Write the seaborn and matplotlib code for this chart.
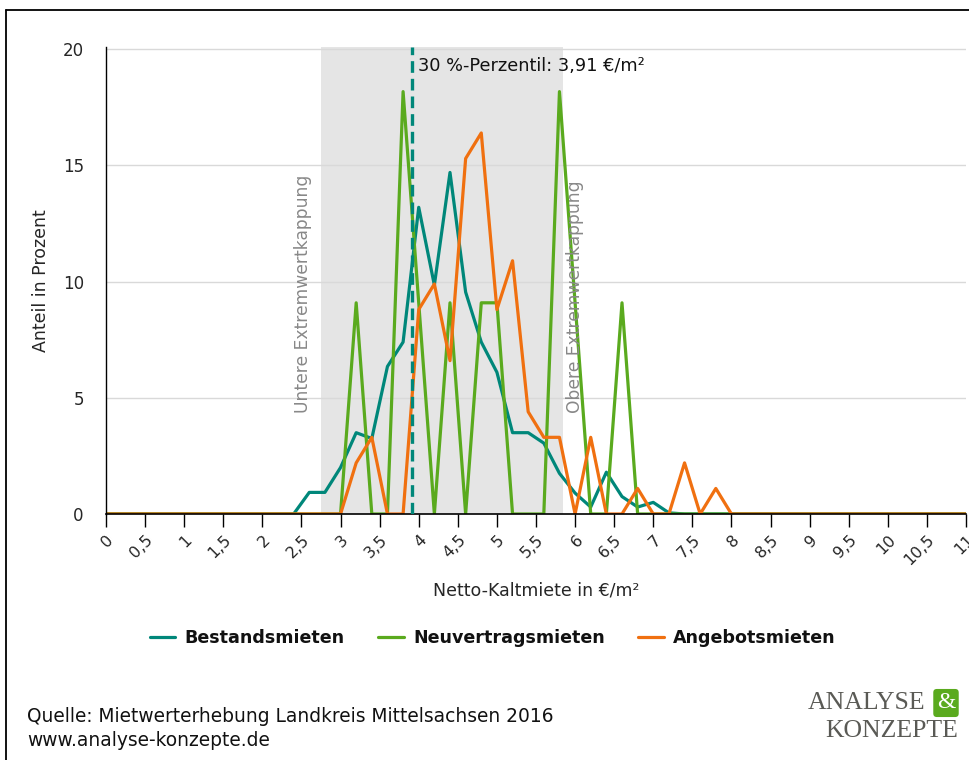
import matplotlib
matplotlib.use("Agg")
import matplotlib.pyplot as plt
import seaborn as sns
import pandas as pd
import numpy as np

# data: share in percent per rent class (0.2 EUR/m2 steps, 0 .. 11)
rent = [round(0.2 * i, 1) for i in range(56)]

bestand = [0, 0, 0, 0, 0, 0, 0, 0, 0, 0, 0, 0,
           0, 0.93, 0.93, 2.0, 3.5, 3.25, 6.35, 7.4, 13.2, 9.85, 14.7, 9.55,
           7.4, 6.1, 3.5, 3.5, 3.05, 1.75, 0.9, 0.3, 1.8, 0.75, 0.3, 0.5,
           0.05, 0, 0, 0, 0, 0, 0, 0, 0, 0, 0, 0, 0, 0, 0, 0, 0, 0, 0, 0]

neuvertrag = [0, 0, 0, 0, 0, 0, 0, 0, 0, 0, 0, 0,
              0, 0, 0, 0, 9.09, 0, 0, 18.18, 9.09, 0, 9.09, 0,
              9.09, 9.09, 0, 0, 0, 18.18, 9.09, 0, 0, 9.09, 0, 0,
              0, 0, 0, 0, 0, 0, 0, 0, 0, 0, 0, 0, 0, 0, 0, 0, 0, 0, 0, 0]

angebot = [0, 0, 0, 0, 0, 0, 0, 0, 0, 0, 0, 0,
           0, 0, 0, 0, 2.2, 3.3, 0, 0, 8.8, 9.9, 6.6, 15.3,
           16.4, 8.8, 10.9, 4.4, 3.3, 3.3, 0, 3.3, 0, 0, 1.1, 0,
           0, 2.2, 0, 1.1, 0, 0, 0, 0, 0, 0, 0, 0, 0, 0, 0, 0, 0, 0, 0, 0]

series_names = ['Bestandsmieten', 'Neuvertragsmieten', 'Angebotsmieten']
colors = ['#00877a', '#5aaa1e', '#f07010']

cap_low = 2.75
cap_high = 5.85
perzentil = 3.91

xticks = [0.5 * i for i in range(23)]
xticklabels = [('%g' % t).replace('.', ',') for t in xticks]

df = pd.DataFrame({
    'Miete': rent * 3,
    'Anteil': bestand + neuvertrag + angebot,
    'Reihe': [series_names[0]] * 56 + [series_names[1]] * 56 + [series_names[2]] * 56,
})

sns.set_style('white')
plt.rcParams['font.family'] = ['DejaVu Sans']

fig = plt.figure(figsize=(9.7, 7.6), dpi=100)
ax = fig.add_axes([106 / 970, 1 - 514 / 760, 860 / 970, 467 / 760])

# extreme value capping band
ax.axvspan(cap_low, cap_high, color='#e5e5e5', zorder=0, lw=0)

g = sns.lineplot(data=df, x='Miete', y='Anteil', hue='Reihe',
                 hue_order=series_names, palette=colors,
                 linewidth=2.3, ax=ax, legend=True)

# 30% percentile line
ax.axvline(perzentil, color=colors[0], linewidth=2.4,
           linestyle=(0, (3.5, 1.8)), zorder=3)
ax.text(perzentil + 0.08, 19.3, '30 %-Perzentil: 3,91 \u20ac/m\u00b2',
        fontsize=12.8, va='center', ha='left', color='#111111')

ax.text(cap_low - 0.12, 4.35, 'Untere Extremwertkappung', rotation=90,
        ha='right', va='bottom', fontsize=12.3, color='#888888')
ax.text(cap_high + 0.03, 4.35, 'Obere Extremwertkappung', rotation=90,
        ha='left', va='bottom', fontsize=12.3, color='#888888')

# axes styling
ax.set_xlim(0, 11)
ax.set_ylim(0, 20.1)
ax.set_xticks(xticks)
ax.set_xticklabels(xticklabels, rotation=45, ha='right',
                   rotation_mode='anchor', fontsize=11.5)
ax.set_yticks([0, 5, 10, 15, 20])
ax.set_yticklabels(['0', '5', '10', '15', '20'], fontsize=12)
ax.tick_params(axis='x', direction='out', length=9, width=1, color='black',
               bottom=True, pad=4)
ax.tick_params(axis='y', length=0, pad=16)
ax.yaxis.grid(True, color='#d9d9d9', linewidth=1)
ax.xaxis.grid(False)
ax.set_axisbelow(True)
for side in ['top', 'right']:
    ax.spines[side].set_visible(False)
ax.spines['left'].set_color('black')
ax.spines['bottom'].set_color('black')
ax.spines['left'].set_linewidth(1)
ax.spines['bottom'].set_linewidth(1.2)

ax.set_xlabel('Netto-Kaltmiete in \u20ac/m\u00b2', fontsize=12.5, labelpad=10)
ax.set_ylabel('Anteil in Prozent', fontsize=12.5, labelpad=9)

# legend below
handles, labels = ax.get_legend_handles_labels()
ax.get_legend().remove()
fig.legend(handles, labels, loc='center', bbox_to_anchor=(0.508, 1 - 638 / 760),
           ncol=3, frameon=False, handlelength=1.45, handletextpad=0.55,
           columnspacing=1.9, labelcolor='#111111',
           prop={'weight': 'bold', 'size': 12.6})

# source
fig.text(27 / 970, 1 - 716 / 760, 'Quelle: Mietwerterhebung Landkreis Mittelsachsen 2016',
         fontsize=13.4, va='center', ha='left', color='#111111')
fig.text(27 / 970, 1 - 740 / 760, 'www.analyse-konzepte.de',
         fontsize=13.4, va='center', ha='left', color='#111111')

# logo
fig.text(925 / 970, 1 - 703 / 760, 'ANALYSE', family='Liberation Serif',
         fontsize=18.5, color='#5a5a55', ha='right', va='center')
fig.text(946 / 970, 1 - 703 / 760, '&', family='Liberation Serif',
         fontsize=17, color='white', ha='center', va='center',
         bbox=dict(boxstyle='round,pad=0.15', fc='#5aaa1e', ec='none'))
fig.text(958 / 970, 1 - 731 / 760, 'KONZEPTE', family='Liberation Serif',
         fontsize=18.5, color='#5a5a55', ha='right', va='center')

# outer frame (top and left)
fig.add_artist(plt.Line2D([6 / 970, 1], [1 - 10 / 760, 1 - 10 / 760],
                          transform=fig.transFigure, color='black', lw=1.3))
fig.add_artist(plt.Line2D([6 / 970, 6 / 970], [0, 1 - 10 / 760],
                          transform=fig.transFigure, color='black', lw=1.3))

fig.savefig('out.png', dpi=100)
